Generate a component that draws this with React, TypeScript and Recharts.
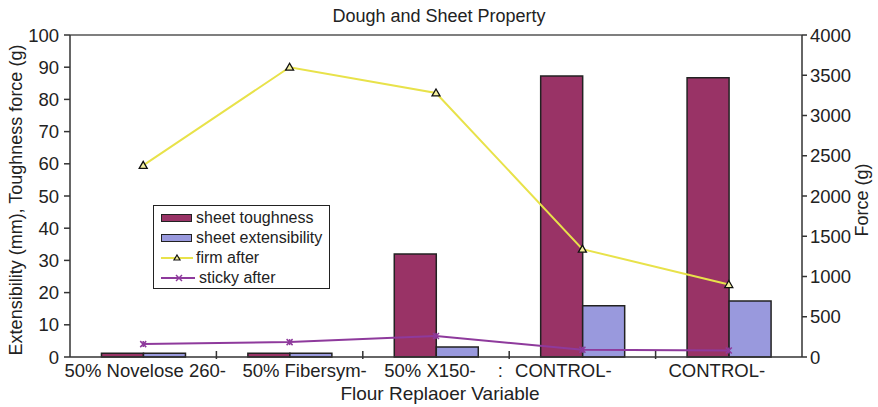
import React from 'react';
import { ComposedChart, Bar, Line, XAxis, YAxis, ReferenceLine } from 'recharts';

const categories = ['50% Novelose 260-', '50% Fibersym-', '50% X150-', 'CONTROL-', 'CONTROL-'];
const sheetToughness = [1.2, 1.2, 32, 87.3, 86.7];
const sheetExtensibility = [1.2, 1.2, 3.1, 15.9, 17.4];
const firmAfter = [2380, 3600, 3280, 1340, 900];
const stickyAfter = [160, 185, 260, 90, 80];

const leftTicks = [0, 10, 20, 30, 40, 50, 60, 70, 80, 90, 100];
const rightTicks = [0, 500, 1000, 1500, 2000, 2500, 3000, 3500, 4000];

const FONT = '"Liberation Sans", Arial, Helvetica, sans-serif';
const TOUGH = '#993366';
const EXT = '#9999dd';
const FIRM = '#e8e24a';
const STICKY = '#8e3a9c';

// labels in the original sit a little off their category centres
const labelShift = [2, 15, -6, -19, -12];

const XTick = (props: any) => {
  const { x, y, payload, index } = props;
  const off = payload?.offset ?? 73;
  const bx = x - off;
  return (
    <g>
      {index > 0 && <line x1={bx} x2={bx} y1={y - 14} y2={y - 6} stroke="#333" strokeWidth={1.5} />}
      <text x={x + labelShift[index]} y={y + 12} textAnchor="middle" fontSize={18.5} fill="#222" fontFamily={FONT}>
        {payload.value}
      </text>
      {index === 3 && (
        <text x={bx - 9} y={y + 12} textAnchor="middle" fontSize={18.5} fill="#222" fontFamily={FONT}>
          :
        </text>
      )}
    </g>
  );
};

const Triangle = (props: any) => {
  const { cx, cy, key } = props;
  if (cx == null || cy == null) return <g key={key} />;
  return (
    <path
      key={key}
      d={`M${cx},${cy - 4} L${cx + 4},${cy + 3} L${cx - 4},${cy + 3} Z`}
      fill="#f4f0a0"
      stroke="#111"
      strokeWidth={1.3}
    />
  );
};

const Cross = (props: any) => {
  const { cx, cy, key } = props;
  if (cx == null || cy == null) return <g key={key} />;
  return (
    <g key={key} stroke={STICKY} strokeWidth={1.5}>
      <line x1={cx - 3} y1={cy - 3} x2={cx + 3} y2={cy + 3} />
      <line x1={cx - 3} y1={cy + 3} x2={cx + 3} y2={cy - 3} />
      <line x1={cx} y1={cy - 3} x2={cx} y2={cy + 3} />
    </g>
  );
};

const legendRow = { display: 'flex', alignItems: 'center', height: 20 } as React.CSSProperties;

const Legend = () => (
  <div
    style={{
      position: 'absolute',
      left: 153,
      top: 205,
      width: 177,
      height: 84,
      border: '1.5px solid #222',
      background: '#fff',
      boxSizing: 'border-box',
      padding: '2px 0 0 7px',
      fontFamily: FONT,
      fontSize: 16,
      color: '#222',
      whiteSpace: 'nowrap',
    }}
  >
    <div style={legendRow}>
      <span style={{ width: 31, height: 8, background: TOUGH, border: '1.5px solid #222', boxSizing: 'border-box', marginRight: 4 }} />
      sheet toughness
    </div>
    <div style={legendRow}>
      <span style={{ width: 31, height: 8, background: EXT, border: '1.5px solid #222', boxSizing: 'border-box', marginRight: 4 }} />
      sheet extensibility
    </div>
    <div style={legendRow}>
      <svg width={32} height={12} style={{ marginRight: 3 }}>
        <line x1={0} y1={6} x2={32} y2={6} stroke={FIRM} strokeWidth={2} />
        <path d="M16,3 L19,8 L13,8 Z" fill="#f4f0a0" stroke="#111" strokeWidth={1.2} />
      </svg>
      firm after
    </div>
    <div style={legendRow}>
      <svg width={36} height={12} style={{ marginRight: 2 }}>
        <line x1={0} y1={6} x2={34} y2={6} stroke={STICKY} strokeWidth={2} />
        <line x1={15} y1={3} x2={21} y2={9} stroke={STICKY} strokeWidth={1.5} />
        <line x1={15} y1={9} x2={21} y2={3} stroke={STICKY} strokeWidth={1.5} />
      </svg>
      sticky after
    </div>
  </div>
);

export default function App() {
  const data = categories.map((name, i) => ({
    name,
    toughness: sheetToughness[i],
    extensibility: sheetExtensibility[i],
    firm: firmAfter[i],
    sticky: stickyAfter[i],
  }));

  return (
    <div style={{ position: 'absolute', left: 0, top: 0, width: 878, height: 407, background: '#fff', fontFamily: FONT }}>
      <ComposedChart
        width={878}
        height={407}
        data={data}
        margin={{ top: 35, right: 0, bottom: 0, left: 0 }}
        barCategoryGap="21.5%"
        barGap={0}
      >
        <XAxis
          dataKey="name"
          height={50}
          interval={0}
          axisLine={{ stroke: '#333', strokeWidth: 1.5 }}
          tickLine={false}
          tick={XTick}
          yAxisId="left"
        />
        <YAxis
          yAxisId="left"
          width={70}
          domain={[0, 100]}
          ticks={leftTicks}
          interval={0}
          tickSize={6}
          tickMargin={5}
          axisLine={{ stroke: '#333', strokeWidth: 1.5 }}
          tickLine={{ stroke: '#333', strokeWidth: 1.5 }}
          tick={{ fontSize: 18.5, fill: '#222', fontFamily: FONT }}
        />
        <YAxis
          yAxisId="right"
          orientation="right"
          width={76}
          domain={[0, 4000]}
          ticks={rightTicks}
          interval={0}
          tickSize={5}
          tickMargin={3}
          axisLine={{ stroke: '#333', strokeWidth: 1.5 }}
          tickLine={{ stroke: '#333', strokeWidth: 1.5 }}
          tick={{ fontSize: 18.5, fill: '#222', fontFamily: FONT }}
        />
        <ReferenceLine yAxisId="left" y={100} stroke="#555" strokeWidth={1.5} />
        <Bar yAxisId="left" dataKey="toughness" fill={TOUGH} stroke="#222" strokeWidth={1.5} isAnimationActive={false} />
        <Bar yAxisId="left" dataKey="extensibility" fill={EXT} stroke="#222" strokeWidth={1.5} isAnimationActive={false} />
        <Line yAxisId="right" dataKey="firm" type="linear" stroke={FIRM} strokeWidth={2} dot={Triangle} isAnimationActive={false} />
        <Line yAxisId="right" dataKey="sticky" type="linear" stroke={STICKY} strokeWidth={2} dot={Cross} isAnimationActive={false} />
      </ComposedChart>
      <svg width={878} height={407} style={{ position: 'absolute', left: 0, top: 0, pointerEvents: 'none' }}>
        <text x={439} y={22} textAnchor="middle" fontSize={18} fill="#222" fontFamily={FONT}>
          Dough and Sheet Property
        </text>
        <text x={440} y={400} textAnchor="middle" fontSize={19} fill="#222" fontFamily={FONT}>
          Flour Replaoer Variable
        </text>
        <text transform="translate(22,200) rotate(-90)" textAnchor="middle" fontSize={18} fill="#222" fontFamily={FONT}>
          Extensibility (mm), Toughness force (g)
        </text>
        <text transform="translate(868,200) rotate(-90)" textAnchor="middle" fontSize={18} fill="#222" fontFamily={FONT}>
          Force (g)
        </text>
      </svg>
      <Legend />
    </div>
  );
}
